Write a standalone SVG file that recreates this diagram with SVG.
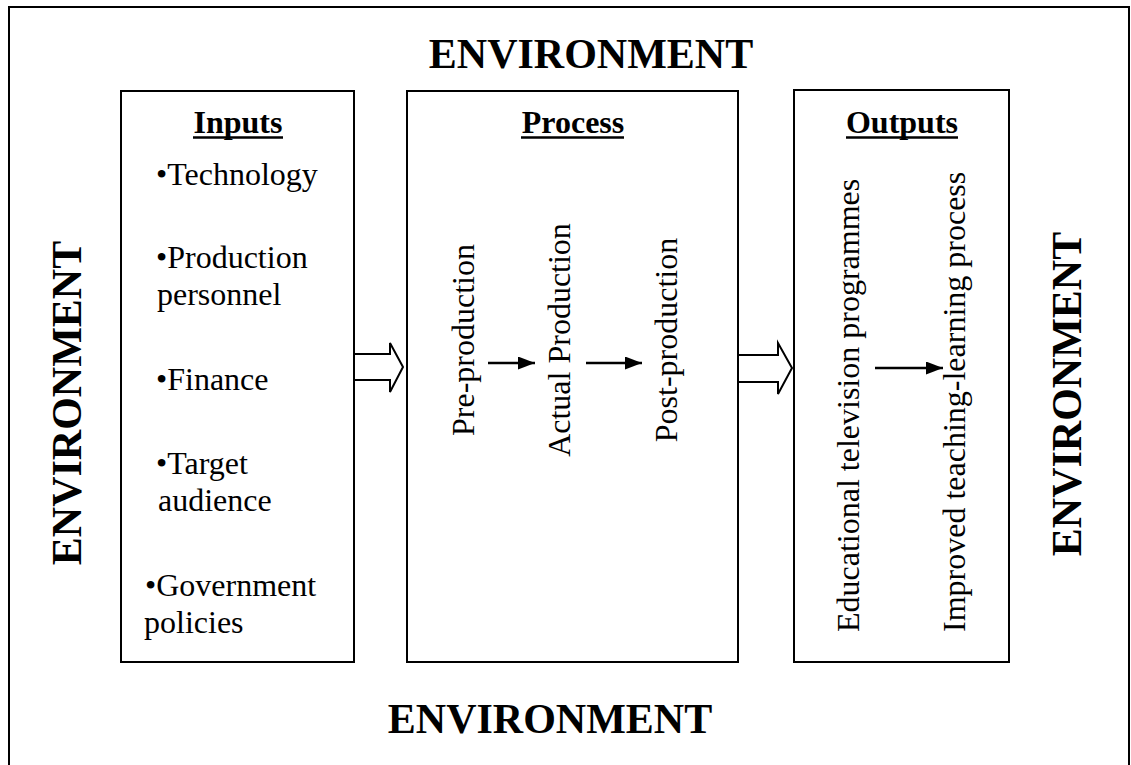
<svg xmlns="http://www.w3.org/2000/svg" width="1131" height="765" viewBox="0 0 1131 765">
<defs>
<style>
.box{fill:#fff;stroke:#000;stroke-width:2}
.env{font-family:"Liberation Serif","Times New Roman",serif;font-weight:bold;font-size:42px;fill:#000}
.hd{font-family:"Liberation Serif","Times New Roman",serif;font-weight:bold;font-size:32px;fill:#000;text-anchor:middle}
.t{font-family:"Liberation Serif","Times New Roman",serif;font-size:32px;fill:#000}
.ul{stroke:#000;stroke-width:2.5}
.hollow{fill:#fff;stroke:#000;stroke-width:2;stroke-linejoin:miter}
.link{stroke:#000;stroke-width:2.5;fill:none}
</style>
<marker id="ah" markerUnits="userSpaceOnUse" markerWidth="18" markerHeight="14" refX="17" refY="6.5" orient="auto">
<path d="M0,0 L17,6.5 L0,13 z" fill="#000"/>
</marker>
</defs>
<rect width="1131" height="765" fill="#fff"/>
<rect x="9" y="7" width="1120" height="800" fill="none" stroke="#000" stroke-width="2"/>

<g id="env-labels">
<text class="env" x="591" y="68" text-anchor="middle">ENVIRONMENT</text>
<text class="env" x="550" y="733" text-anchor="middle">ENVIRONMENT</text>
<text class="env" transform="translate(81,403) rotate(-90)" text-anchor="middle">ENVIRONMENT</text>
<text class="env" transform="translate(1081,394) rotate(-90)" text-anchor="middle">ENVIRONMENT</text>
</g>

<g id="inputs">
<rect class="box" x="121" y="91" width="233" height="571"/>
<text class="hd" x="238" y="133">Inputs</text>
<line class="ul" x1="193" y1="137.5" x2="283" y2="137.5"/>
<text class="t" x="156" y="185">•Technology</text>
<text class="t" x="156" y="268">•Production</text>
<text class="t" x="157" y="305">personnel</text>
<text class="t" x="156" y="390">•Finance</text>
<text class="t" x="156" y="474">•Target</text>
<text class="t" x="158" y="511">audience</text>
<text class="t" x="145" y="596">•Government</text>
<text class="t" x="144" y="633">policies</text>
</g>

<g id="process">
<rect class="box" x="407" y="91" width="331" height="571"/>
<text class="hd" x="573" y="133">Process</text>
<line class="ul" x1="521" y1="137.5" x2="624" y2="137.5"/>
<text class="t" transform="translate(474,340) rotate(-90)" text-anchor="middle">Pre-production</text>
<text class="t" transform="translate(570,340) rotate(-90)" text-anchor="middle">Actual Production</text>
<text class="t" transform="translate(677,340) rotate(-90)" text-anchor="middle">Post-production</text>
</g>

<g id="outputs">
<rect class="box" x="794" y="90" width="215" height="572"/>
<text class="hd" x="902" y="133">Outputs</text>
<line class="ul" x1="846" y1="137.5" x2="958" y2="137.5"/>
<text class="t" transform="translate(859,632) rotate(-90)">Educational television programmes</text>
<text class="t" transform="translate(965,632) rotate(-90)">Improved teaching-learning process</text>
</g>

<g id="connectors">
<polygon class="hollow" points="354,354 390,354 390,343 403,367 390,392 390,380 354,380"/>
<polygon class="hollow" points="738,355 778,355 778,343 792,368 778,394 778,382 738,382"/>
<line class="link" x1="488" y1="363" x2="535" y2="363" marker-end="url(#ah)"/>
<line class="link" x1="586" y1="363" x2="642" y2="363" marker-end="url(#ah)"/>
<line class="link" x1="875" y1="368" x2="943" y2="368" marker-end="url(#ah)"/>
</g>
</svg>
